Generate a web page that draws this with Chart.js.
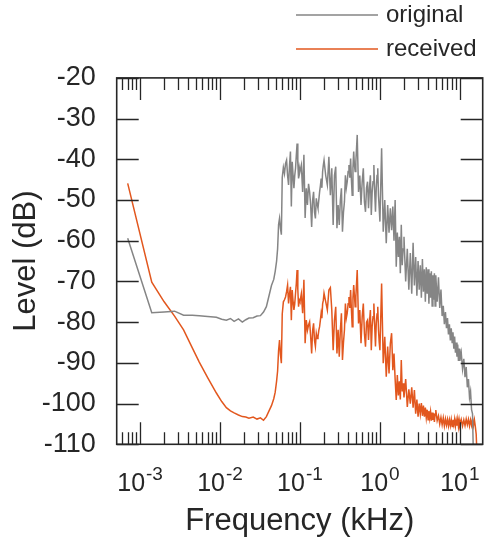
<!DOCTYPE html>
<html>
<head>
<meta charset="utf-8">
<script src="https://cdn.jsdelivr.net/npm/chart.js@4.4.1/dist/chart.umd.min.js"></script>
<style>
  html, body { margin: 0; padding: 0; background: #fff; }
  #wrap { width: 493px; height: 547px; }
</style>
</head>
<body>
<div id="wrap"><canvas id="grafico" width="493" height="547"></canvas></div>
<script>
// Frecuencias en kHz (eje X logarítmico)
var freqKHz = [
    // zona baja
    0.0007, 0.0014, 0.002, 0.0027, 0.0035, 0.0045, 0.0055, 0.007, 0.009, 0.0105,
    0.012, 0.0135, 0.015, 0.017, 0.019, 0.021, 0.023, 0.026, 0.029, 0.032,
    0.035, 0.038, 0.041, 0.044, 0.047, 0.049, 0.051, 0.0525, 0.054, 0.0555,
    0.057, 0.0585,
    // 0.06 - 0.1
    0.06, 0.062, 0.064, 0.066, 0.068, 0.07, 0.072, 0.074, 0.076, 0.078,
    0.08, 0.082, 0.084, 0.086, 0.088, 0.09, 0.092, 0.094, 0.096, 0.098,
    // 0.1 - 0.2
    0.1, 0.104, 0.108, 0.112, 0.116, 0.12, 0.124, 0.128, 0.132, 0.136,
    0.14, 0.144, 0.148, 0.152, 0.156, 0.16, 0.164, 0.168, 0.172, 0.176,
    0.18, 0.184, 0.188, 0.192, 0.196,
    // 0.2 - 0.5
    0.2, 0.21, 0.22, 0.23, 0.24, 0.25, 0.26, 0.27, 0.28, 0.29,
    0.3, 0.31, 0.32, 0.33, 0.34, 0.35, 0.36, 0.37, 0.38, 0.39,
    0.4, 0.41, 0.42, 0.43, 0.44, 0.45, 0.46, 0.47, 0.48, 0.49,
    // 0.5 - 1
    0.5, 0.52, 0.54, 0.56, 0.58, 0.6, 0.62, 0.64, 0.66, 0.68,
    0.7, 0.72, 0.74, 0.76, 0.78, 0.8, 0.82, 0.84, 0.86, 0.88,
    0.9, 0.92, 0.94, 0.96, 0.98,
    // 1 - 2
    1.0, 1.05, 1.1, 1.15, 1.2, 1.25, 1.3, 1.35, 1.4, 1.45,
    1.5, 1.55, 1.6, 1.65, 1.7, 1.75, 1.8, 1.85, 1.9, 1.95,
    // 2 - 5
    2.0, 2.1, 2.2, 2.3, 2.4, 2.5, 2.6, 2.7, 2.8, 2.9,
    3.0, 3.1, 3.2, 3.3, 3.4, 3.5, 3.6, 3.7, 3.8, 3.9,
    4.0, 4.1, 4.2, 4.3, 4.4, 4.5, 4.6, 4.7, 4.8, 4.9,
    // 5 - 10
    5.0, 5.2, 5.4, 5.6, 5.8, 6.0, 6.2, 6.4, 6.6, 6.8,
    7.0, 7.2, 7.4, 7.6, 7.8, 8.0, 8.2, 8.4, 8.6, 8.8,
    9.0, 9.2, 9.4, 9.6, 9.8,
    // 10 - 20
    10.0, 10.4, 10.8, 11.2, 11.6, 12.0, 12.4, 12.8, 13.2, 13.6,
    14.0, 14.4, 14.8, 15.2, 15.6, 16.0, 16.4, 16.8, 17.2, 17.6,
    18.0, 18.4, 18.8, 19.2
];

// Nivel en dB de la señal original
var original = [
    -59.4, -77.7, -77.5, -77.3, -78.3, -78.3, -78.4, -78.6, -78.8, -79.3,
    -79.5, -79.1, -79.8, -79.2, -80.0, -79.4, -79.0, -78.9, -78.5, -78.4,
    -77.5, -76.2, -73.5, -71.0, -69.5, -67.5, -65.0, -62.0, -56.0, -54.5,
    -57.0, -58.5,

    -44.5, -42.0, -43.5, -41.0, -40.2, -44.0, -46.3, -41.5, -38.1, -51.6,
    -40.6, -44.0, -47.1, -44.0, -42.2, -39.0, -36.1, -41.0, -44.7, -42.0,

    -43.0, -41.4, -48.0, -38.9, -54.4, -47.1, -51.2, -46.0, -48.0, -51.2,
    -56.6, -50.0, -48.0, -53.0, -54.5, -49.6, -51.0, -52.0, -50.0, -48.0,
    -46.5, -44.7, -47.0, -43.0, -41.4,

    -40.2, -44.0, -46.3, -39.4, -48.8, -42.2, -56.1, -44.0, -41.8, -56.9,
    -51.2, -56.1, -50.0, -47.1, -57.8, -53.0, -50.4, -43.9, -47.0, -45.5,
    -43.0, -41.4, -44.5, -39.8, -45.0, -48.8, -42.0, -38.1, -41.5, -43.0,

    -40.6, -34.0, -48.0, -44.0, -51.2, -45.5, -42.2, -50.4, -52.9, -47.0,
    -45.5, -52.0, -47.0, -43.9, -53.7, -48.0, -45.5, -41.4, -48.0, -52.9,
    -47.1, -44.0, -42.2, -49.0, -52.0,

    -55.3, -37.3, -57.8, -50.0, -60.6, -51.2, -58.0, -52.0, -57.4, -51.6,
    -60.0, -50.0, -66.4, -58.0, -64.0, -59.0, -68.0, -56.1, -66.0, -62.0,

    -59.0, -70.0, -62.0, -72.0, -63.0, -73.0, -60.5, -71.0, -64.0, -73.5,
    -65.0, -72.0, -66.0, -74.0, -64.5, -72.5, -67.0, -75.0, -66.5, -73.0,
    -67.0, -75.5, -68.0, -74.0, -67.5, -76.0, -68.5, -74.5, -68.0, -76.0,

    -68.5, -75.0, -69.0, -76.5, -72.0, -78.5, -76.0, -80.5, -77.5, -81.5,
    -79.0, -83.0, -80.5, -84.5, -81.5, -85.0, -82.5, -86.5, -83.5, -87.5,
    -85.0, -88.5, -85.5, -89.5, -86.5,

    -89.5, -87.5, -91.5, -89.0, -93.5, -91.0, -96.0, -94.0, -98.5, -97.0,
    -101.5, -102.5, -114.0, null, null, null, null, null, null, null,
    null, null, null, null
];

// Nivel en dB de la señal recibida
var received = [
    -45.9, -70.2, -75.0, -78.5, -81.9, -86.3, -89.8, -93.6, -97.4, -99.5,
    -101.0, -101.8, -102.3, -102.8, -103.2, -103.3, -103.6, -103.3, -103.8, -103.5,
    -104.1, -103.2, -101.8, -100.5, -98.8, -97.2, -94.5, -92.0, -87.0, -84.4,
    -88.0, -90.1,

    -78.0, -75.0, -74.5, -73.8, -72.5, -70.9, -75.4, -73.0, -71.3, -79.5,
    -72.1, -75.0, -77.0, -75.5, -72.9, -70.5, -67.2, -72.0, -76.2, -74.6,

    -75.0, -73.0, -77.8, -69.6, -85.2, -79.5, -82.0, -80.7, -79.9, -83.5,
    -87.7, -82.0, -80.3, -84.5, -86.0, -82.8, -84.0, -83.6, -82.0, -81.1,
    -79.5, -77.8, -79.0, -75.5, -74.6,

    -72.9, -75.0, -77.0, -72.1, -71.5, -77.0, -86.9, -79.5, -76.2, -87.7,
    -81.9, -88.5, -82.0, -77.8, -89.3, -85.0, -81.9, -75.4, -79.0, -77.8,
    -75.5, -73.8, -76.5, -72.1, -77.0, -81.1, -74.0, -70.9, -73.5, -76.2,

    -73.8, -67.2, -80.3, -77.0, -85.2, -78.7, -75.4, -82.8, -86.0, -80.0,
    -79.5, -84.4, -80.0, -77.0, -86.9, -81.0, -78.7, -75.4, -81.0, -86.0,
    -80.3, -78.0, -76.2, -82.0, -85.0,

    -86.9, -70.5, -90.1, -83.6, -93.4, -86.0, -92.6, -85.2, -82.7, -91.8,
    -87.7, -94.0, -99.1, -93.0, -98.0, -94.5, -99.0, -89.3, -97.0, -95.0,

    -98.5, -94.0, -100.8, -96.5, -100.0, -96.0, -101.0, -96.7, -102.5, -99.0,
    -103.2, -100.0, -102.5, -99.9, -103.0, -100.5, -103.2, -101.0, -103.5, -101.5,
    -104.0, -101.8, -103.6, -102.0, -104.2, -102.2, -104.0, -102.4, -104.5, -102.6,

    -101.6, -104.2, -103.0, -105.0, -103.4, -105.2, -103.5, -105.5, -103.8, -105.3,
    -103.9, -105.5, -104.0, -105.4, -103.9, -105.6, -104.0, -105.2, -103.8, -105.5,
    -104.1, -105.4, -103.9, -105.6, -104.0,

    -105.3, -103.9, -105.5, -104.0, -105.4, -103.8, -105.2, -103.9, -105.5, -104.0,
    -105.3, -103.8, -105.4, -104.0, -105.6, -107.5, -113.0, null, null, null,
    null, null, null, null
];

var seriesNames = ['original', 'received'];
var seriesColors = ['#858585', '#e2571e'];
var decades = [0.0001, 0.001, 0.01, 0.1, 1, 10];   // marcas mayores del eje X
var decadeExponents = ['-4', '-3', '-2', '-1', '0', '1'];

var FONT = '"Liberation Sans", Arial, Helvetica, sans-serif';
var INK = '#262626';

function toPoints(values) {
    var pts = [];
    freqKHz.forEach(function (f, i) {
        if (values[i] !== null && values[i] !== undefined) pts.push({ x: f, y: values[i] });
    });
    return pts;
}

// Marco con marcas hacia adentro, etiquetas 10^n y leyenda a la derecha arriba
var marcoPlugin = {
    id: 'marco',
    afterDatasetsDraw: function (chart) {
        var ctx = chart.ctx, a = chart.chartArea;
        var sx = chart.scales.x, sy = chart.scales.y;
        ctx.save();
        ctx.strokeStyle = INK;
        ctx.lineWidth = 1.3;
        ctx.beginPath();
        sx.ticks.forEach(function (t) {
            var px = Math.round(sx.getPixelForValue(t.value)) + 0.5;
            if (px < a.left + 1 || px > a.right - 1) return;
            var len = t.major ? 22 : 12;
            ctx.moveTo(px, a.bottom); ctx.lineTo(px, a.bottom - len);
            ctx.moveTo(px, a.top); ctx.lineTo(px, a.top + len);
        });
        sy.ticks.forEach(function (t) {
            var py = Math.round(sy.getPixelForValue(t.value)) + 0.5;
            ctx.moveTo(a.left, py); ctx.lineTo(a.left + 22, py);
            ctx.moveTo(a.right, py); ctx.lineTo(a.right - 22, py);
        });
        ctx.stroke();
        ctx.lineWidth = 1.6;
        ctx.strokeRect(a.left, a.top, a.right - a.left, a.bottom - a.top);

        // etiquetas del eje X con exponente
        ctx.fillStyle = INK;
        ctx.textBaseline = 'alphabetic';
        ctx.textAlign = 'left';
        decades.forEach(function (d, i) {
            var px = sx.getPixelForValue(d);
            if (px < a.left - 1 || px > a.right + 1) return;
            ctx.font = '25px ' + FONT;
            var wBase = ctx.measureText('10').width;
            ctx.font = '19px ' + FONT;
            var wExp = ctx.measureText(decadeExponents[i]).width;
            var x0 = px - (wBase + 1 + wExp) / 2;
            ctx.font = '25px ' + FONT;
            ctx.fillText('10', x0, a.bottom + 47);
            ctx.font = '19px ' + FONT;
            ctx.fillText(decadeExponents[i], x0 + wBase + 1, a.bottom + 36);
        });

        // leyenda
        ctx.font = '24px ' + FONT;
        ctx.textBaseline = 'middle';
        chart.data.datasets.forEach(function (ds, i) {
            var ly = 15 + i * 34;
            ctx.strokeStyle = ds.borderColor;
            ctx.lineWidth = 1.5;
            ctx.beginPath();
            ctx.moveTo(296, ly); ctx.lineTo(378, ly);
            ctx.stroke();
            ctx.fillStyle = INK;
            ctx.fillText(ds.label, 386, ly);
        });
        ctx.restore();
    }
};

var ctx = document.getElementById('grafico').getContext('2d');
var chart = new Chart(ctx, {
    type: 'line',
    data: {
        datasets: [
            { label: seriesNames[0], data: toPoints(original), borderColor: seriesColors[0], borderWidth: 1.5, pointRadius: 0, tension: 0 },
            { label: seriesNames[1], data: toPoints(received), borderColor: seriesColors[1], borderWidth: 1.5, pointRadius: 0, tension: 0 }
        ]
    },
    options: {
        responsive: false,
        animation: false,
        layout: { padding: { left: 0, top: 77.9, right: 10.3, bottom: 0 } },
        plugins: { legend: { display: false }, tooltip: { enabled: false } },
        scales: {
            x: {
                type: 'logarithmic',
                min: 0.00051,
                max: 19.3,
                grid: { display: false },
                border: { display: false },
                ticks: { display: false },
                title: { display: true, text: 'Frequency (kHz)', color: INK, font: { family: FONT, size: 31 }, padding: { top: 0, bottom: 7 } },
                afterBuildTicks: function (scale) {
                    var ticks = [];
                    decades.forEach(function (d) {
                        for (var m = 1; m <= 9; m++) {
                            var v = d * m;
                            if (v >= scale.min && v <= scale.max) ticks.push({ value: v, major: m === 1 });
                        }
                    });
                    scale.ticks = ticks;
                },
                afterFit: function (scale) { scale.height = 102.7; }
            },
            y: {
                min: -110,
                max: -20,
                grid: { display: false },
                border: { display: false },
                ticks: { stepSize: 10, color: INK, padding: 13, font: { family: FONT, size: 27 } },
                title: { display: true, text: 'Level (dB)', color: INK, font: { family: FONT, size: 31 }, padding: { top: 8, bottom: 0 } },
                afterFit: function (scale) { scale.width = 116.7; }
            }
        }
    },
    plugins: [marcoPlugin]
});
</script>
</body>
</html>
